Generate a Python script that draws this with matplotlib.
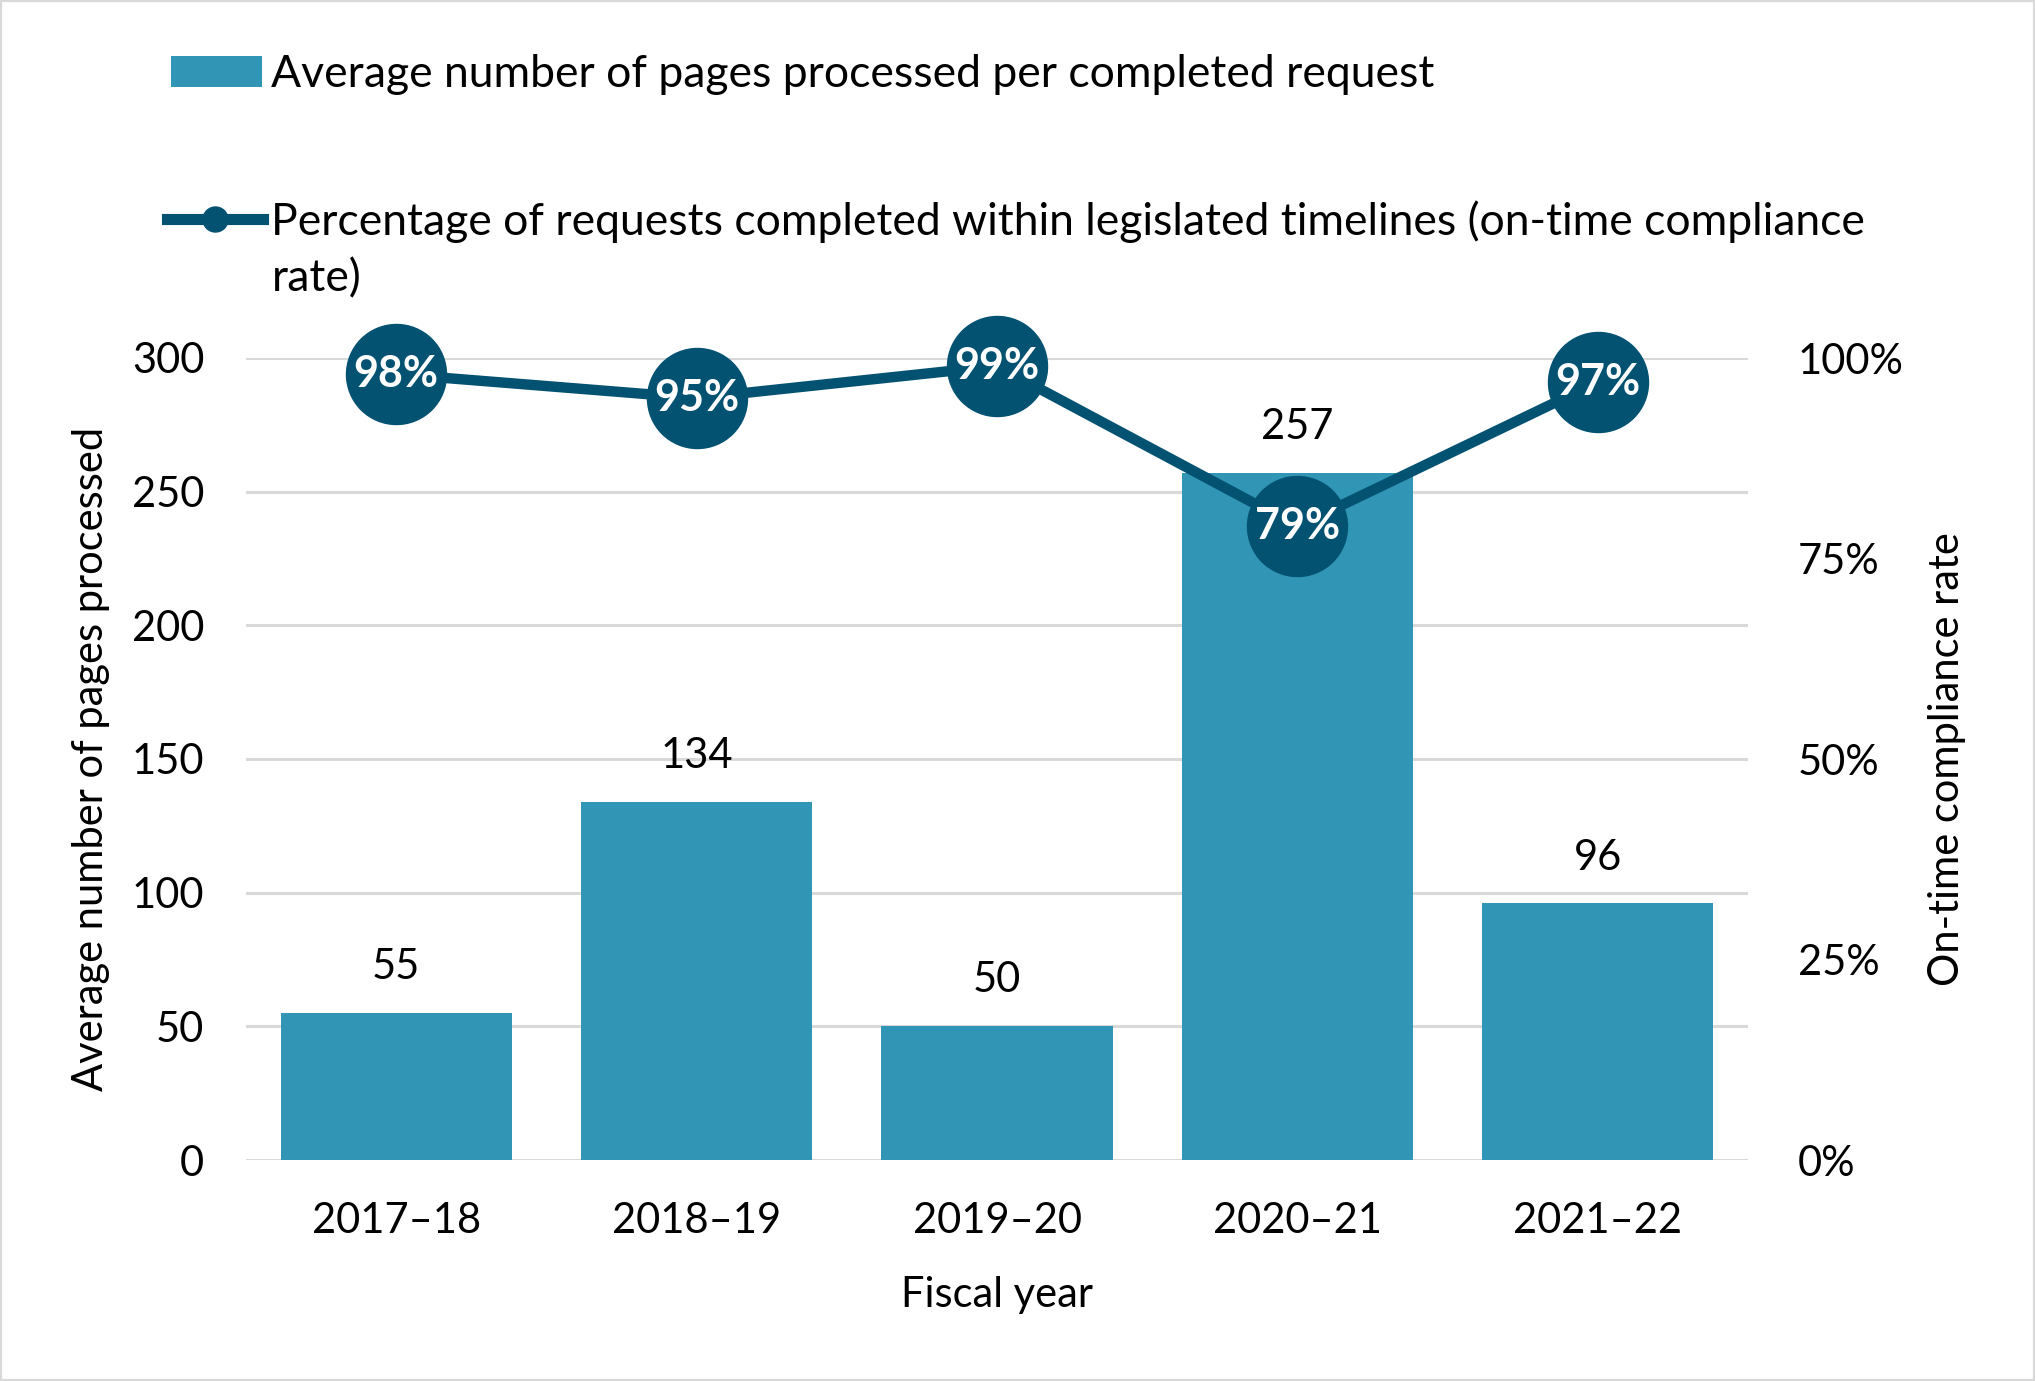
import matplotlib
matplotlib.use("Agg")
import matplotlib.pyplot as plt
from matplotlib.patches import Patch, Rectangle
from matplotlib.lines import Line2D

plt.rcParams['font.family'] = ['Lato', 'DejaVu Sans']

years = ["2017–18", "2018–19", "2019–20", "2020–21", "2021–22"]
pages = [55, 134, 50, 257, 96]
compliance = [98, 95, 99, 79, 97]
left_ticks = [0, 50, 100, 150, 200, 250, 300]
right_ticks = [0, 25, 50, 75, 100]
legend_bar = "Average number of pages processed per completed request"
legend_line = ["Percentage of requests completed within legislated timelines (on-time compliance",
               "rate)"]

bar_color = "#3195b5"
line_color = "#035272"
grid_color = "#d9d9d9"
FS = 30
LFS = 32

W, H = 2035, 1381
fig = plt.figure(figsize=(W / 100, H / 100), dpi=100, facecolor="white")
fig.patches.append(Rectangle((0, 0), 1, 1, transform=fig.transFigure, fill=False,
                             edgecolor=grid_color, linewidth=3))

ax = fig.add_axes([246 / W, 1 - 1160 / H, (1748 - 246) / W, (1160 - 358) / H])
x = list(range(len(years)))
ax.bar(x, pages, width=0.77, color=bar_color, zorder=2)
ax.set_xlim(-0.5, len(years) - 0.5)
ax.set_ylim(0, 300)
ax.set_yticks(left_ticks)
ax.set_yticklabels([str(t) for t in left_ticks])
ax.set_xticks(x)
ax.set_xticklabels(years)
ax.grid(axis="y", color=grid_color, linewidth=2.2, zorder=0)
ax.set_axisbelow(True)
for s in ax.spines.values():
    s.set_visible(False)
ax.tick_params(axis="y", length=0, pad=30, labelsize=FS)
ax.tick_params(axis="x", length=0, pad=30, labelsize=FS)
for xi, v in zip(x, pages):
    ax.annotate(str(v), (xi, v), xytext=(0, 33), textcoords="offset points",
                ha="center", va="center", fontsize=FS)
ax.set_ylabel("Average number of pages processed", fontsize=FS, va="center")
ax.yaxis.set_label_coords((91 - 246) / 1502, 0.5)
ax.set_xlabel("Fiscal year", fontsize=FS, va="center")
ax.xaxis.set_label_coords(0.5, (1160 - 1295) / 802)

ax2 = ax.twinx()
ax2.plot(x, compliance, color=line_color, linewidth=7.5, marker="o", markersize=72,
         zorder=3, clip_on=False)
for xi, v in zip(x, compliance):
    ax2.text(xi, v, f"{v}%", ha="center", va="center", color="white",
             fontsize=31, fontweight="bold", zorder=4, clip_on=False)
ax2.set_ylim(0, 100)
ax2.set_yticks(right_ticks)
ax2.set_yticklabels([f"{t}%" for t in right_ticks])
ax2.tick_params(axis="y", length=0, pad=36, labelsize=FS)
for s in ax2.spines.values():
    s.set_visible(False)
ax2.set_ylabel("On-time compliance rate", fontsize=FS, rotation=90, va="center")
ax2.yaxis.set_label_coords((1947 - 246) / 1502, 0.5)

h1 = Patch(facecolor=bar_color, edgecolor="none")
h2 = Line2D([], [], color=line_color, linewidth=8, marker="o", markersize=18)
h_blank = Line2D([], [], alpha=0)
leg1 = fig.legend([h1], [legend_bar],
                  loc="upper left", bbox_to_anchor=(171 / W, 1 - 54 / H),
                  frameon=False, fontsize=LFS, borderpad=0, borderaxespad=0,
                  handlelength=2.05, handletextpad=0.2)
leg2 = fig.legend([h2, h_blank], legend_line,
                  loc="upper left", bbox_to_anchor=(167 / W, 1 - 200 / H),
                  frameon=False, fontsize=LFS, borderpad=0, borderaxespad=0,
                  handlelength=2.15, handletextpad=0.2, labelspacing=0.35)

fig.savefig("out.png", dpi=100, facecolor="white")
